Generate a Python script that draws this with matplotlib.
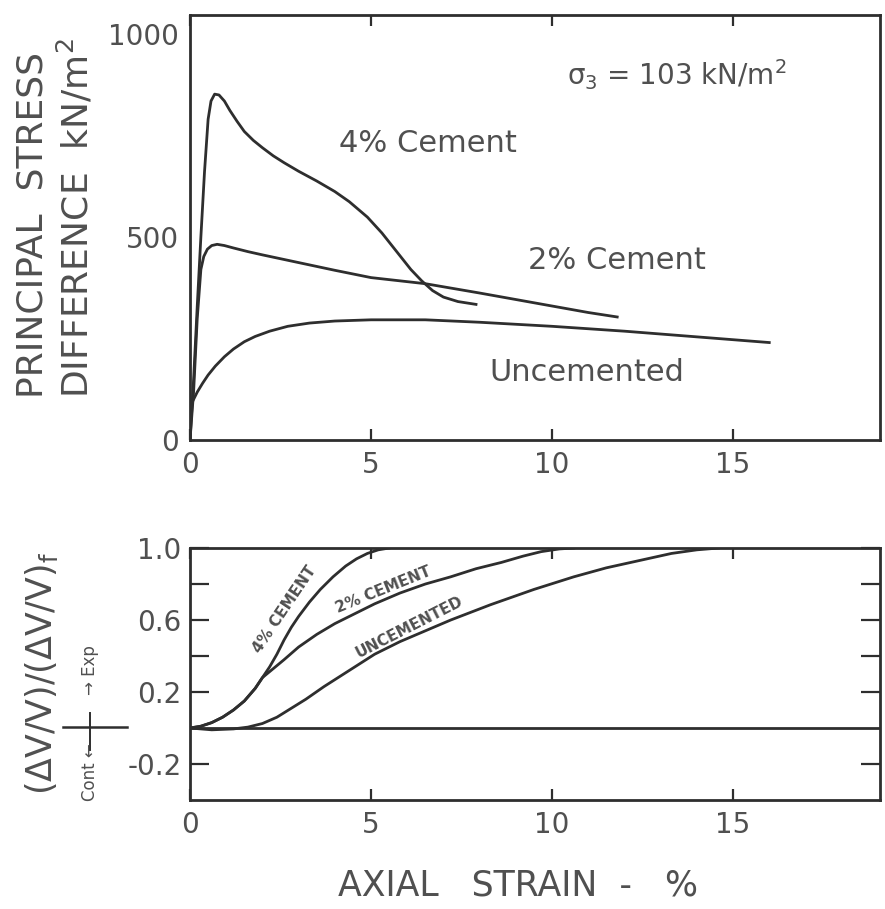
import matplotlib
matplotlib.use("Agg")
import matplotlib.pyplot as plt
from matplotlib.lines import Line2D

plt.rcParams["font.family"] = ["DejaVu Sans"]
plt.rcParams["mathtext.default"] = "regular"

INK = "#2e2e2e"
TXT = "#505050"

# --- stress-strain data (axial strain %, kN/m2) ---
strain_4 = [0, 0.1, 0.2, 0.3, 0.4, 0.5, 0.58, 0.68, 0.8, 0.95, 1.1, 1.3, 1.5, 1.75, 2.0, 2.3, 2.6,
            3.0, 3.5, 4.0, 4.4, 4.9, 5.3, 5.7, 6.1, 6.4, 6.7, 7.0, 7.4, 7.9]
stress_4 = [0, 150, 330, 500, 660, 790, 835, 852, 850, 835, 812, 785, 760, 738, 720, 700, 683,
            662, 638, 612, 587, 549, 510, 465, 420, 392, 368, 352, 341, 334]

strain_2 = [0, 0.1, 0.2, 0.3, 0.38, 0.48, 0.6, 0.75, 0.95, 1.2, 1.6, 2.0, 3.0, 4.0, 5.0, 6.5,
            8.0, 9.0, 10.0, 11.0, 11.8]
stress_2 = [0, 120, 300, 420, 452, 470, 479, 482, 479, 473, 464, 456, 437, 418, 400, 385,
            362, 346, 330, 314, 303]

strain_u = [0.02, 0.1, 0.2, 0.35, 0.5, 0.7, 0.95, 1.2, 1.5, 1.8, 2.2, 2.7, 3.3, 4.0, 5.0, 6.5,
            8.0, 10.0, 12.0, 14.0, 16.0]
stress_u = [85, 100, 118, 140, 160, 182, 205, 224, 242, 255, 268, 280, 288, 293, 296, 296,
            290, 280, 268, 254, 240]

# --- normalised volume change data ---
vstrain_4 = [0, 0.3, 0.6, 0.9, 1.2, 1.5, 1.8, 2.0, 2.2, 2.4, 2.6, 2.8, 3.0, 3.3, 3.6, 3.95,
             4.3, 4.6, 4.9, 5.2, 5.5]
vol_4 = [0, 0.01, 0.03, 0.06, 0.10, 0.15, 0.22, 0.28, 0.34, 0.41, 0.49, 0.56, 0.62, 0.70, 0.77,
         0.84, 0.90, 0.94, 0.97, 0.99, 1.0]

vstrain_2 = [0, 0.3, 0.6, 0.9, 1.2, 1.5, 1.8, 2.0, 2.3, 2.6, 3.0, 3.5, 4.0, 4.4, 5.1, 5.8, 6.5,
             7.2, 7.9, 8.6, 9.2, 9.7, 10.2, 10.6]
vol_2 = [0, 0.01, 0.03, 0.06, 0.10, 0.15, 0.22, 0.28, 0.33, 0.38, 0.45, 0.52, 0.58, 0.62, 0.69,
         0.75, 0.80, 0.84, 0.885, 0.92, 0.955, 0.98, 0.995, 1.0]

vstrain_u = [0, 0.6, 1.2, 1.6, 2.0, 2.4, 2.8, 3.2, 3.7, 4.4, 5.1, 5.8, 6.5, 7.2, 8.3, 9.5, 10.6,
             11.5, 12.4, 13.3, 14.0, 14.6]
vol_u = [0, -0.01, -0.005, 0.005, 0.025, 0.06, 0.11, 0.16, 0.23, 0.32, 0.41, 0.48, 0.54, 0.60,
         0.685, 0.77, 0.84, 0.89, 0.93, 0.97, 0.99, 1.0]

fig = plt.figure(figsize=(8.85, 9.09), dpi=100)
ax1 = fig.add_axes([0.2147, 0.516, 0.7797, 0.4675])
ax2 = fig.add_axes([0.2147, 0.1199, 0.7797, 0.2772])

for ax in (ax1, ax2):
    for s in ax.spines.values():
        s.set_linewidth(2.0)
        s.set_color(INK)
    ax.set_xlim(0, 19.06)
    ax.set_xticks([0, 5, 10, 15])
    ax.tick_params(axis="both", which="both", direction="in", colors=INK,
                   labelcolor=TXT, labelsize=20, width=1.6,
                   top=True, right=True)
    ax.tick_params(axis="x", length=8, pad=8)

# top panel
lw = 2.0
ax1.plot(strain_4, stress_4, color=INK, lw=lw)
ax1.plot(strain_2, stress_2, color=INK, lw=lw)
ax1.plot(strain_u, stress_u, color=INK, lw=lw)
ax1.set_ylim(0, 1047)
ax1.set_yticks([0, 500, 1000])
ax1.set_yticks([500], minor=True)
ax1.tick_params(axis="y", which="major", length=0, pad=8)
ax1.tick_params(axis="y", which="minor", length=15)

ax1.text(13.45, 899, r"$\sigma_3$ = 103 kN/m$^2$", fontsize=20, color=TXT, ha="center", va="center")
ax1.text(6.57, 731, "4% Cement", fontsize=22, color=TXT, ha="center", va="center")
ax1.text(11.8, 443, "2% Cement", fontsize=22, color=TXT, ha="center", va="center")
ax1.text(10.97, 165, "Uncemented", fontsize=22, color=TXT, ha="center", va="center")

fig.text(33 / 885, 1 - 225 / 909, "PRINCIPAL  STRESS", rotation=90, fontsize=26,
         color=TXT, ha="center", va="center")
fig.text(76 / 885, 1 - 218 / 909, "DIFFERENCE  kN/m$^2$", rotation=90, fontsize=26,
         color=TXT, ha="center", va="center")

# bottom panel
ax2.plot(vstrain_4, vol_4, color=INK, lw=lw)
ax2.plot(vstrain_2, vol_2, color=INK, lw=lw)
ax2.plot(vstrain_u, vol_u, color=INK, lw=lw)
ax2.axhline(0, color=INK, lw=2.0)
ax2.set_ylim(-0.4, 1.0)
ax2.set_yticks([-0.2, 0.2, 0.6, 1.0])
ax2.set_yticklabels(["-0.2", "0.2", "0.6", "1.0"])
ax2.set_yticks([0.4, 0.8], minor=True)
ax2.tick_params(axis="y", which="both", length=14, pad=6)
ax2.tick_params(axis="x", which="minor", length=0)

ax2.text(2.62, 0.66, "4% CEMENT", fontsize=11, color=TXT, rotation=56,
         ha="center", va="center", fontweight="bold")
ax2.text(5.33, 0.77, "2% CEMENT", fontsize=11, color=TXT, rotation=22,
         ha="center", va="center", fontweight="bold")
ax2.text(6.05, 0.56, "UNCEMENTED", fontsize=11, color=TXT, rotation=27,
         ha="center", va="center", fontweight="bold")

fig.text(518 / 885, 1 - 886 / 909, "AXIAL   STRAIN  -   %", fontsize=25, color=TXT,
         ha="center", va="center")

fig.text(42 / 885, 1 - 673 / 909, r"$(\Delta V/V)/(\Delta V/V)_f$", rotation=90,
         fontsize=25, color=TXT, ha="center", va="center")
fig.text(90 / 885, 1 - 772 / 909, "Cont \u2190", rotation=90, fontsize=12,
         color=TXT, ha="center", va="center")
fig.text(90 / 885, 1 - 670 / 909, "\u2192 Exp", rotation=90, fontsize=12,
         color=TXT, ha="center", va="center")
fig.add_artist(Line2D([63 / 885, 127 / 885], [1 - 727 / 909, 1 - 727 / 909],
                      transform=fig.transFigure, color=INK, lw=1.8))
fig.add_artist(Line2D([90 / 885, 90 / 885], [1 - 713 / 909, 1 - 750 / 909],
                      transform=fig.transFigure, color=INK, lw=1.4))

fig.savefig("out.png", dpi=100, facecolor="white")
